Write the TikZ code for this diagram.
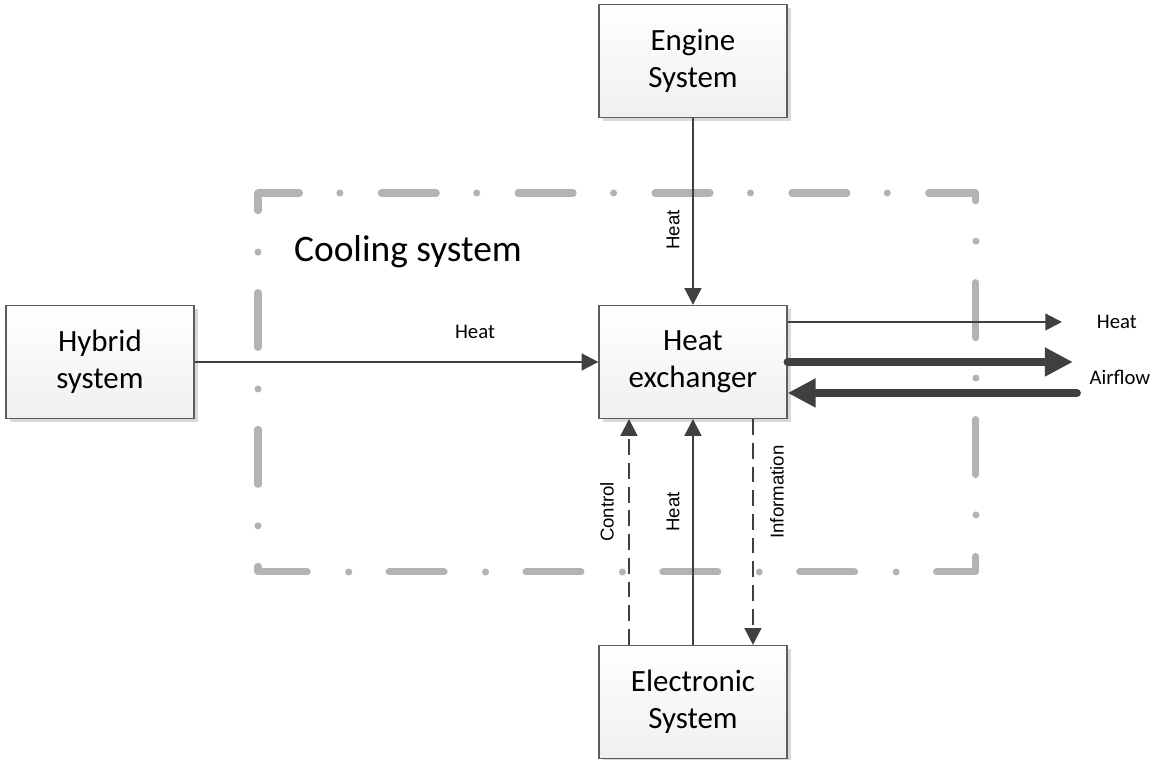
\documentclass[tikz,border=0pt]{standalone}
\usepackage{fontspec}
\setmainfont{Carlito}
\newfontfamily\labelfont{Liberation Sans}
\usetikzlibrary{arrows.meta,shadows}
\definecolor{linegray}{HTML}{404040}
\definecolor{framegray}{HTML}{B3B3B3}
\begin{document}
\begin{tikzpicture}[
    x=0.02cm, y=-0.02cm, % 按像素取坐标
    line width=1.3pt, % 统一线宽
    block/.style={
        draw=linegray!85, line width=0.7pt,
        top color=white, bottom color=gray!12,
        minimum width=3.76cm, minimum height=2.26cm,
        align=center, inner sep=2pt,
        font=\fontsize{17.6}{21}\selectfont,
        drop shadow={shadow xshift=2.2pt, shadow yshift=-2.2pt, fill=gray!30, opacity=1}
    },
    flow/.style={draw=linegray, -{Triangle[length=9.5pt,width=9.5pt]}},
    ctrlflow/.style={flow, dash pattern=on 9pt off 4.5pt},
    airflow/.style={draw=linegray, line width=4.5pt, line cap=round,
        -{Triangle[length=16pt,width=15.5pt]}},
    lbl/.style={font=\fontsize{11.8}{14}\selectfont, inner sep=1pt}, % 横排标注
    vlbl/.style={font=\labelfont\fontsize{10.6}{13}\selectfont, inner sep=1pt, rotate=90}, % 竖排标注
    frame/.style={draw=framegray, line width=4pt, line cap=round, line join=round,
        dash pattern=on 31.3pt off 23pt on 0pt off 23.6pt, dash phase=7.7pt}
]
  % 冷却系统边框
  \draw[frame] (258,193) -- (976,193) -- (976,572) -- (258,572) -- cycle;
  \node[font=\fontsize{21.3}{25}\selectfont] (cooling) at (408,252) {Cooling system};

  % 各个系统
  \node[block] (engine) at (693,61) {Engine\\System};
  \node[block] (hx) at (693,362) {Heat\\exchanger};
  \node[block] (elec) at (693,702) {Electronic\\System};
  \node[block] (hybrid) at (100,362) {Hybrid\\system};

  % 右侧出口
  \coordinate (heatend) at (1062,322);
  \coordinate (airout) at (1073,362);
  \coordinate (airin) at (1077,393);

  % 连线
  \draw[flow] (engine.south) -- (hx.north);
  \draw[flow] (hybrid) -- (hx);
  \draw[flow] (hx.north east |- heatend) -- (heatend);
  \draw[airflow] (hx.east) -- (airout);
  \draw[airflow] (airin) -- (hx.east |- airin);
  \draw[ctrlflow] ([xshift=-1.28cm]elec.north) -- ([xshift=-1.28cm]hx.south);
  \draw[flow] (elec.north) -- (hx.south);
  \draw[ctrlflow] ([xshift=1.2cm]hx.south) -- ([xshift=1.2cm]elec.north);

  % 标注
  \node[vlbl] (engineheat) at (673,230) {Heat};
  \node[lbl] (hybridheat) at (475,332) {Heat};
  \node[lbl] (outheat) at (1117,322) {Heat};
  \node[lbl] (airtxt) at (1120,377) {Airflow};
  \node[vlbl] (ctrltxt) at (607,512) {Control};
  \node[vlbl] (elecheat) at (673,512) {Heat};
  \node[vlbl] (infotxt) at (777,492) {Information};

  \useasboundingbox (0,0) rectangle (1152,760);
\end{tikzpicture}
\end{document}
